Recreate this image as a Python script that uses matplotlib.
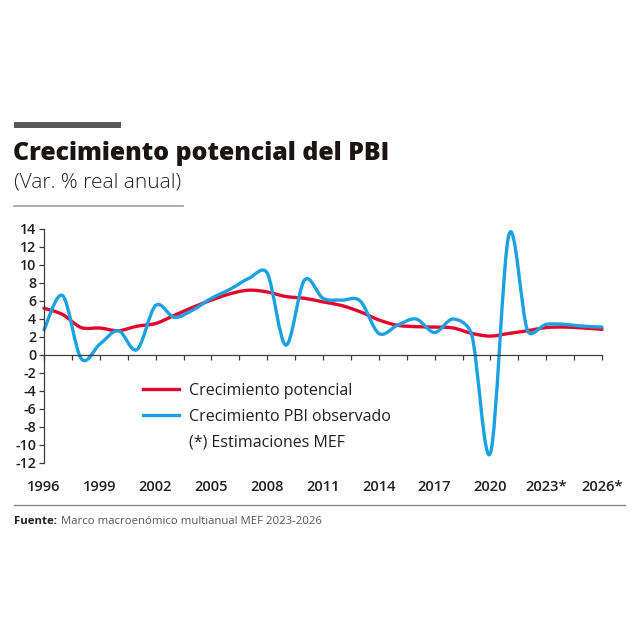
"""
Crecimiento potencial del PBI (Var. % real anual), 1996-2026*
"""
import numpy as np
import matplotlib
matplotlib.use("Agg")
import matplotlib.pyplot as plt
from matplotlib.path import Path
from matplotlib.patches import PathPatch
from matplotlib.lines import Line2D

plt.rcParams['font.family'] = ['Open Sans', 'DejaVu Sans']
plt.rcParams['axes.unicode_minus'] = False

# Data
years = np.arange(1996, 2027)
potencial = [5.2, 4.5, 3.05, 3.0, 2.7, 3.2, 3.5, 4.4, 5.3, 6.1,
             6.8, 7.2, 7.0, 6.5, 6.3, 5.9, 5.5, 4.8, 3.9, 3.3,
             3.15, 3.1, 3.0, 2.4, 2.1, 2.4, 2.7, 3.05, 3.1, 3.0, 2.85]
observado = [2.8, 6.6, -0.4, 1.2, 2.7, 0.6, 5.5, 4.2, 5.0, 6.3,
             7.3, 8.5, 9.1, 1.1, 8.3, 6.3, 6.1, 6.0, 2.4, 3.3,
             4.0, 2.5, 4.0, 2.2, -10.9, 13.4, 2.7, 3.4, 3.4, 3.2, 3.1]
label_years = [1996, 1999, 2002, 2005, 2008, 2011, 2014, 2017, 2020, 2023, 2026]
label_text = ['1996', '1999', '2002', '2005', '2008', '2011', '2014', '2017',
              '2020', '2023*', '2026*']
series_names = ['Crecimiento potencial', 'Crecimiento PBI observado']
nota = '(*) Estimaciones MEF'

RED = '#E2062C'
BLUE = '#1BA1DF'


def smooth_path(xs, ys, sx, sy):
    """Bezier path through the points, spreadsheet-style smoothing."""
    P = np.column_stack([np.asarray(xs, float) * sx, np.asarray(ys, float) * sy])
    n = len(P)
    verts = [P[0]]
    codes = [Path.MOVETO]
    for i in range(n - 1):
        p0 = P[i - 1] if i > 0 else P[i]
        p1, p2 = P[i], P[i + 1]
        p3 = P[i + 2] if i + 2 < n else P[i + 1]
        d02 = np.linalg.norm(p2 - p0)
        d12 = np.linalg.norm(p2 - p1)
        d13 = np.linalg.norm(p3 - p1)
        f1 = f2 = 1 / 6
        if d02 > 0 and d02 / 6 >= d12 / 2:
            f1 = d12 / (2 * d02)
        if d13 > 0 and d13 / 6 >= d12 / 2:
            f2 = d12 / (2 * d13)
        verts += [p1 + (p2 - p0) * f1, p2 - (p3 - p1) * f2, p2]
        codes += [Path.CURVE4] * 3
    V = np.array(verts)
    V[:, 0] /= sx
    V[:, 1] /= sy
    return Path(V, codes)


fig = plt.figure(figsize=(6.4, 6.4), dpi=100)
W = H = 640.0

# Header decorations
fig.add_artist(plt.Rectangle((14 / W, 1 - 128 / H), 107 / W, 6 / H,
                             color='#58585A', lw=0, transform=fig.transFigure))
fig.text(13 / W, 1 - 160 / H, 'Crecimiento potencial del PBI', fontsize=17.9,
         fontweight='heavy', color='#1a1414', va='baseline', ha='left')
fig.text(14 / W, 1 - 188 / H, '(Var. % real anual)', fontsize=15,
         fontweight='light', color='#231f20', va='baseline', ha='left')
fig.add_artist(Line2D([14 / W, 183 / W], [1 - 205.5 / H] * 2, color='#9d9d9d',
                      lw=1.2, transform=fig.transFigure))

# Plot area
ax = fig.add_axes([44 / W, 1 - 463 / H, 558 / W, 234 / H])
ax.set_xlim(1996, 2026)
ax.set_ylim(-12, 14)
sx, sy = 558 / 30, 234 / 26

for vals, col in [(potencial, RED), (observado, BLUE)]:
    ax.add_patch(PathPatch(smooth_path(years, vals, sx, sy), fill=False,
                           edgecolor=col, lw=2.4, capstyle='round',
                           joinstyle='round', clip_on=False))

for s in ['top', 'right']:
    ax.spines[s].set_visible(False)
ax.spines['bottom'].set_position(('data', 0))
for s in ['left', 'bottom']:
    ax.spines[s].set_color('#3c3c3c')
    ax.spines[s].set_linewidth(0.9)

ax.set_yticks(np.arange(-12, 15, 2))
ax.tick_params(axis='y', direction='out', length=3.5, width=0.9, color='#3c3c3c',
               labelsize=10.3, pad=2, labelcolor='#231f20')
for t in ax.get_yticklabels():
    t.set_fontweight('semibold')
ax.set_xticks(np.arange(1996, 2026.01, 1.5))
ax.tick_params(axis='x', direction='out', length=3.5, width=0.9, color='#3c3c3c',
               labelbottom=False)

for yr, lab in zip(label_years, label_text):
    ax.text(yr, -24 / 234, lab, transform=ax.get_xaxis_transform(), ha='center',
            va='center', fontsize=10.6, fontweight='semibold', color='#231f20')

handles = [Line2D([], [], color=RED, lw=2.4),
           Line2D([], [], color=BLUE, lw=2.4),
           Line2D([], [], color='none', lw=0)]
ax.legend(handles, series_names + [nota], loc='upper left',
          bbox_to_anchor=(98.7 / 558, 80 / 234), frameon=False, fontsize=11.5,
          handlelength=2.3, handletextpad=0.62, labelspacing=0.6,
          borderpad=0, borderaxespad=0, labelcolor='#231f20')

# Footer
fig.add_artist(Line2D([14 / W, 625 / W], [1 - 505 / H] * 2, color='#8a8a8a',
                      lw=1.0, transform=fig.transFigure))
fig.text(14 / W, 1 - 524 / H, 'Fuente:', fontsize=8.2, fontweight='bold',
         color='#231f20', va='baseline', ha='left')
fig.text(61 / W, 1 - 524 / H, 'Marco macroenómico multianual MEF 2023-2026',
         fontsize=8.2, color='#555555', va='baseline', ha='left')

fig.savefig('out.png', dpi=100, facecolor='white')
